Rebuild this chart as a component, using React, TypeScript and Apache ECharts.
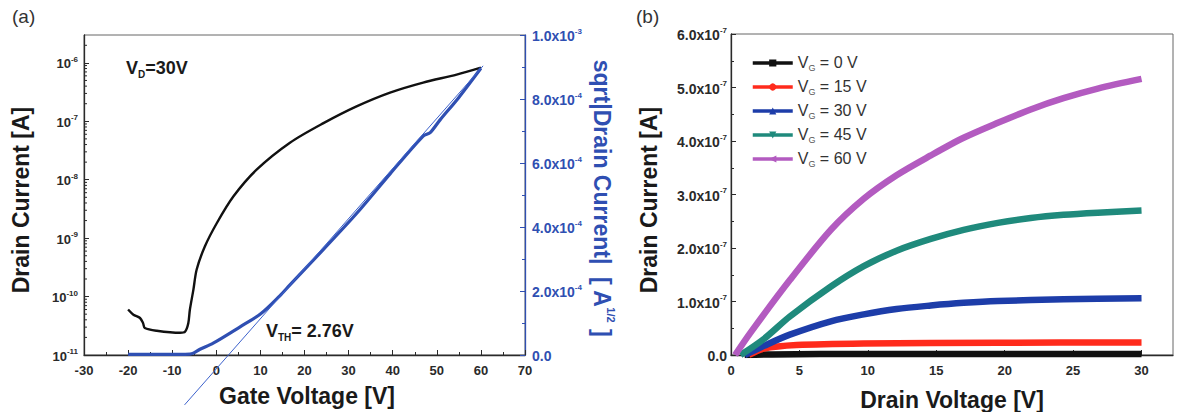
import React, { useEffect, useRef } from "react";
import * as echarts from "echarts";

const FONT = '"Liberation Sans", Arial, Helvetica, sans-serif';
const INK = "#2a2a2a";
const BLUE = "#2f4fb2";

// ---------- (a) transfer characteristics, V_D = 30 V ----------
const TRANSFER_VG = [-20, -18.8, -17.3, -16.6, -16.2, -13.5, -8.2, -7.1, -6.35, -6.0, -5.2, -4.45, -2.6, 0.1, 3.9, 9.2, 16.7, 24.3, 31.8, 39.4, 46.9, 54.5, 60];
const TRANSFER_ID = [6.0e-11, 4.9e-11, 4.3e-11, 3.5e-11, 2.9e-11, 2.6e-11, 2.4e-11, 2.5e-11, 3.5e-11, 5.9e-11, 1.3e-10, 2.9e-10, 7.2e-10, 1.8e-9, 5.2e-9, 1.5e-8, 4.3e-8, 9.3e-8, 1.8e-7, 3.1e-7, 4.6e-7, 6.3e-7, 8.3e-7];

const SQRT_VG = [-20, -12, -6, -5.2, -3.7, -0.7, 5.4, 10, 14.4, 16.7, 24.3, 31.8, 39.4, 46.9, 48.5, 50.7, 55, 60];
const SQRT_ID = [2e-6, 2e-6, 3e-6, 6e-6, 1.8e-5, 3.7e-5, 8.8e-5, 1.28e-4, 1.85e-4, 2.19e-4, 3.3e-4, 4.42e-4, 5.66e-4, 6.84e-4, 6.95e-4, 7.34e-4, 8.05e-4, 8.96e-4];

// linear fit of sqrt(I_D): zero crossing gives the threshold voltage
const VTH = 2.76;
const FIT_SLOPE = 1.565e-5;
const FIT_VG_RANGE = [-7.2, 60.5];

// tick values
const LOG_DECADES = [-11, -10, -9, -8, -7, -6];
const LOG_MINOR_STEPS = [2, 3, 4, 5, 6, 7, 8, 9];
const LOG_MIN = 1e-11;
const LOG_MAX = 3e-6;

// ---------- (b) output characteristics ----------
const OUTPUT_LABELS = ["0", "15", "30", "45", "60"];
const ID_VG0 = [[1, 0], [3, 1e-9], [10, 2e-9], [20, 2e-9], [30, 2e-9]];
const ID_VG15 = [[1.3, 0], [2.4, 1.2e-8], [4.8, 1.85e-8], [9.7, 2.15e-8], [19.5, 2.3e-8], [30, 2.35e-8]];
const ID_VG30 = [[1, 0], [2.4, 1.7e-8], [4.3, 3.8e-8], [7.3, 6.3e-8], [9.7, 7.6e-8], [12.1, 8.6e-8], [14.6, 9.25e-8], [17, 9.75e-8], [19.5, 1.01e-7], [24.3, 1.04e-7], [30, 1.06e-7]];
const ID_VG45 = [[0.7, 0], [2.4, 3.0e-8], [4.3, 7.2e-8], [7.3, 1.28e-7], [9.7, 1.66e-7], [12.1, 1.95e-7], [14.6, 2.17e-7], [17, 2.34e-7], [19.5, 2.47e-7], [21.9, 2.56e-7], [24.3, 2.62e-7], [26.8, 2.66e-7], [30, 2.7e-7]];
const ID_VG60 = [[0.3, 0], [1.4, 4.1e-8], [4.3, 1.4e-7], [7.3, 2.34e-7], [9.7, 2.92e-7], [12.1, 3.36e-7], [14.6, 3.73e-7], [17, 4.06e-7], [19.5, 4.34e-7], [21.9, 4.59e-7], [24.3, 4.8e-7], [26.8, 4.98e-7], [30, 5.16e-7]];
const OUTPUT_DATA = [ID_VG0, ID_VG15, ID_VG30, ID_VG45, ID_VG60];
const OUTPUT_COLORS = ["#111111", "#ff2b1c", "#1d3da9", "#1f8a7c", "#b35bc0"];
const OUTPUT_SYMBOLS = ["rect", "circle", "triangle", "triangle", "triangle"];
const OUTPUT_SYMBOL_ROTATE = [0, 0, 0, 180, 90];

function supRich(color: string, size: number) {
  return {
    m: { fontSize: size, fontWeight: "bold", fontFamily: FONT, color, verticalAlign: "bottom", lineHeight: size + 2 },
    e: { fontSize: 8, fontWeight: "bold", fontFamily: FONT, color, verticalAlign: "top", lineHeight: 9, padding: [0, 0, size - 4, 0] },
  };
}

function sciLabel(v: number) {
  if (v === 0) return "{m|0.0}";
  const e = Math.floor(Math.log10(Math.abs(v)) + 1e-9);
  const m = v / Math.pow(10, e);
  return `{m|${m.toFixed(1)}x10}{e|${e}}`;
}

function logLabel(v: number) {
  return `{m|10}{e|${Math.round(Math.log10(v))}}`;
}

export default function App() {
  const ref = useRef<HTMLDivElement>(null);

  useEffect(() => {
    if (!ref.current) return;
    const chart = echarts.init(ref.current, null, { renderer: "svg" });

    const logMinor = LOG_DECADES.flatMap((d) => LOG_MINOR_STEPS.map((k) => k * Math.pow(10, d))).filter((v) => v < LOG_MAX);
    const fitLine = FIT_VG_RANGE.map((vg) => [vg, FIT_SLOPE * (vg - VTH)]);

    const tickLabel = { fontFamily: FONT, fontWeight: "bold", fontSize: 13, color: INK };
    const axisLine = (color: string) => ({ show: true, onZero: false, lineStyle: { color, width: 1.3 } });
    const titleStyle = (color: string) => ({ fill: color, fontFamily: FONT, fontWeight: "bold", fontSize: 23 });
    const center = { align: "center", verticalAlign: "middle", textAlign: "center", textVerticalAlign: "middle" };
    const leftMid = { align: "left", verticalAlign: "middle", textAlign: "left", textVerticalAlign: "middle" };
    const subRich = {
      v: { fontFamily: FONT, fontWeight: "bold", fontSize: 18, fill: "#1a1a1a", verticalAlign: "top", lineHeight: 20 },
      s: { fontFamily: FONT, fontWeight: "bold", fontSize: 10, fill: "#1a1a1a", verticalAlign: "bottom", lineHeight: 11, padding: [14, 0, 0, 0] },
    };

    const option: any = {
      animation: false,
      backgroundColor: "#ffffff",
      grid: [
        { left: 84, top: 35, width: 441, height: 320, show: true, borderColor: "#666", borderWidth: 1, containLabel: false },
        { left: 731, top: 34, width: 442, height: 321, show: true, borderColor: "#666", borderWidth: 1, containLabel: false },
      ],
      xAxis: [
        {
          gridIndex: 0, type: "value", min: -30, max: 70, interval: 10,
          axisLine: axisLine(INK),
          axisTick: { inside: true, length: 5, lineStyle: { color: INK } },
          minorTick: { show: true, splitNumber: 2, length: 3, lineStyle: { color: INK } },
          splitLine: { show: false },
          axisLabel: { ...tickLabel, margin: 9 },
        },
        {
          gridIndex: 1, type: "value", min: 0, max: 32.3, interval: 5,
          axisLine: axisLine(INK),
          axisTick: { inside: true, length: 5, lineStyle: { color: INK } },
          splitLine: { show: false },
          axisLabel: { ...tickLabel, margin: 9, showMaxLabel: false },
        },
      ],
      yAxis: [
        {
          gridIndex: 0, type: "log", logBase: 10, min: LOG_MIN, max: LOG_MAX,
          axisLine: axisLine(INK),
          axisTick: { inside: true, length: 5, lineStyle: { color: INK } },
          splitLine: { show: false },
          axisLabel: { ...tickLabel, margin: 6, showMaxLabel: false, formatter: logLabel, rich: supRich(INK, 13) },
        },
        {
          gridIndex: 0, type: "value", position: "right", min: 0, max: 1e-3, interval: 2e-4,
          axisLine: axisLine(BLUE),
          axisTick: { inside: true, length: 5, lineStyle: { color: BLUE } },
          minorTick: { show: true, splitNumber: 2, length: 3, lineStyle: { color: BLUE } },
          splitLine: { show: false },
          axisLabel: { ...tickLabel, color: BLUE, margin: 7, formatter: sciLabel, rich: supRich(BLUE, 14) },
        },
        {
          gridIndex: 1, type: "value", min: 0, max: 6e-7, interval: 1e-7,
          axisLine: axisLine(INK),
          axisTick: { inside: true, length: 5, lineStyle: { color: INK } },
          minorTick: { show: true, splitNumber: 2, length: 3, lineStyle: { color: INK } },
          splitLine: { show: false },
          axisLabel: { ...tickLabel, margin: 4, formatter: sciLabel, rich: supRich(INK, 14) },
        },
      ],
      legend: {
        orient: "vertical",
        left: 746,
        top: 47,
        itemWidth: 40,
        itemHeight: 9,
        itemGap: 4,
        data: OUTPUT_LABELS.map((l) => `V_G = ${l} V`),
        lineStyle: { width: 3.5 },
        formatter: (name: string) => `{v|V}{s|G}{v| = ${name.replace("V_G = ", "")}}`,
        textStyle: {
          color: "#333",
          fontFamily: FONT,
          fontSize: 15,
          rich: {
            v: { fontSize: 16, fontFamily: FONT, color: "#333", verticalAlign: "top", lineHeight: 18 },
            s: { fontSize: 9, fontFamily: FONT, color: "#555", verticalAlign: "bottom", lineHeight: 10, padding: [11, 0, 0, 0] },
          },
        },
      },
      series: [
        {
          type: "custom", xAxisIndex: 0, yAxisIndex: 0, silent: true, z: 5,
          data: logMinor.map((v) => [-30, v]),
          renderItem: (_params: any, api: any) => {
            const p = api.coord([api.value(0), api.value(1)]);
            return { type: "line", shape: { x1: p[0], y1: p[1], x2: p[0] + 3, y2: p[1] }, style: { stroke: INK, lineWidth: 1 } };
          },
        },
        {
          name: "Drain current", type: "line", xAxisIndex: 0, yAxisIndex: 0,
          data: TRANSFER_VG.map((vg, i) => [vg, TRANSFER_ID[i]]),
          showSymbol: false, smooth: 0.3,
          lineStyle: { color: "#111", width: 2.4 },
        },
        {
          name: "sqrt drain current", type: "line", xAxisIndex: 0, yAxisIndex: 1,
          data: SQRT_VG.map((vg, i) => [vg, SQRT_ID[i]]),
          showSymbol: false, smooth: 0.3,
          lineStyle: { color: BLUE, width: 3.2 },
        },
        {
          name: "fit", type: "line", xAxisIndex: 0, yAxisIndex: 1, clip: false,
          data: fitLine, showSymbol: false,
          lineStyle: { color: "#3d62cc", width: 1 },
        },
        ...OUTPUT_DATA.map((d, i) => ({
          name: `V_G = ${OUTPUT_LABELS[i]} V`,
          type: "line",
          xAxisIndex: 1,
          yAxisIndex: 2,
          data: d,
          smooth: 0.3,
          showSymbol: false,
          symbol: OUTPUT_SYMBOLS[i],
          symbolRotate: OUTPUT_SYMBOL_ROTATE[i],
          symbolSize: 8,
          itemStyle: { color: OUTPUT_COLORS[i] },
          lineStyle: { color: OUTPUT_COLORS[i], width: 6.5 },
          z: 3 + i,
        })),
      ],
      graphic: [
        { type: "text", x: 12, y: 16, style: { text: "(a)", fill: "#333", fontFamily: FONT, fontSize: 19, ...leftMid } },
        { type: "text", x: 636, y: 16, style: { text: "(b)", fill: "#333", fontFamily: FONT, fontSize: 19, ...leftMid } },
        { type: "text", x: 21, y: 200, rotation: Math.PI / 2, style: { text: "Drain Current [A]", ...titleStyle("#1a1a1a"), ...center } },
        { type: "text", x: 307, y: 396, style: { text: "Gate Voltage [V]", ...titleStyle("#1a1a1a"), ...center } },
        {
          type: "text", x: 603, y: 198, rotation: -Math.PI / 2,
          style: {
            text: "{b|sqrt|Drain Current|  [ A}{s|1/2}{b| ]}",
            fill: BLUE, ...center,
            rich: {
              b: { fontFamily: FONT, fontWeight: "bold", fontSize: 23, fill: BLUE, verticalAlign: "bottom", lineHeight: 26 },
              s: { fontFamily: FONT, fontWeight: "bold", fontSize: 11, fill: BLUE, verticalAlign: "top", lineHeight: 12, padding: [0, 0, 16, 0] },
            },
          },
        },
        { type: "text", x: 649, y: 200, rotation: Math.PI / 2, style: { text: "Drain Current [A]", ...titleStyle("#1a1a1a"), ...center } },
        { type: "text", x: 952, y: 400, style: { text: "Drain Voltage [V]", ...titleStyle("#1a1a1a"), ...center } },
        { type: "text", x: 126, y: 69, style: { text: "{v|V}{s|D}{v|=30V}", ...leftMid, rich: subRich } },
        { type: "text", x: 266, y: 332, style: { text: "{v|V}{s|TH}{v|= 2.76V}", ...leftMid, rich: subRich } },
      ],
    };

    chart.setOption(option);
    return () => chart.dispose();
  }, []);

  return (
    <div
      ref={ref}
      style={{ position: "fixed", left: 0, top: 0, width: 1186, height: 412, background: "#fff" }}
    />
  );
}
